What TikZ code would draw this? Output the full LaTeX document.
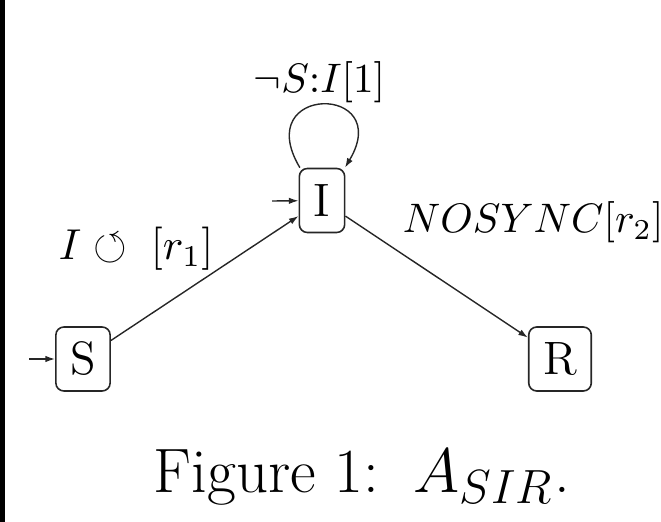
\RequirePackage{fix-cm}
\documentclass[tikz,border=0pt]{standalone}
\usepackage{amssymb}
\usetikzlibrary{arrows.meta}
\DeclareMathSizes{15.7}{15.7}{12}{9}

\begin{document}
\begin{tikzpicture}[x=0.25pt,y=-0.25pt,
  state/.style={draw=black!85, rounded corners=2pt, line width=0.4pt, minimum height=16pt,
    inner xsep=3.6pt, inner ysep=0pt, font=\fontsize{11.7}{14}\selectfont},
  edge/.style={draw=black!85, -{Latex[length=2.4pt,width=1.6pt]}, line width=0.35pt},
  lbl/.style={inner sep=0pt, anchor=base west, font=\fontsize{10.3}{12}\selectfont}
]
\useasboundingbox (0,0) rectangle (661,522);
\fill[black] (0,0) rectangle (4.5,522);

% states
\node[state] (S) at (83,359) {S};
\node[state] (I) at (322,200.5) {I};
\node[state] (R) at (560,359) {R};

% initial markers
\coordinate (s0) at (29,359);
\coordinate (i0) at (272,201);
\draw[edge] (s0) -- (S);
\draw[edge] (i0) -- (I);

% transitions
\draw[edge] (S) -- (I);
\draw[edge] (I) -- (R);
\draw[edge] (I.124) .. controls +(-50,-84) and +(50,-84) .. (I.55);

% transition labels
\node[lbl, font=\fontsize{10.8}{13}\selectfont] (l1) at (58,260) {$I \circlearrowleft\; [r_1]$};
\node[lbl] (l2) at (402,233) {$NOSYNC[r_2]$};
\node[lbl] (l3) at (253,93) {$\neg S{:}I[1]$};

% caption
\node[anchor=base west, inner sep=0pt, font=\fontsize{15.7}{19}\selectfont] (cap)
  at (153,492) {Figure 1:\hspace{2.2pt} $A_{SIR}$.};
\end{tikzpicture}
\end{document}
